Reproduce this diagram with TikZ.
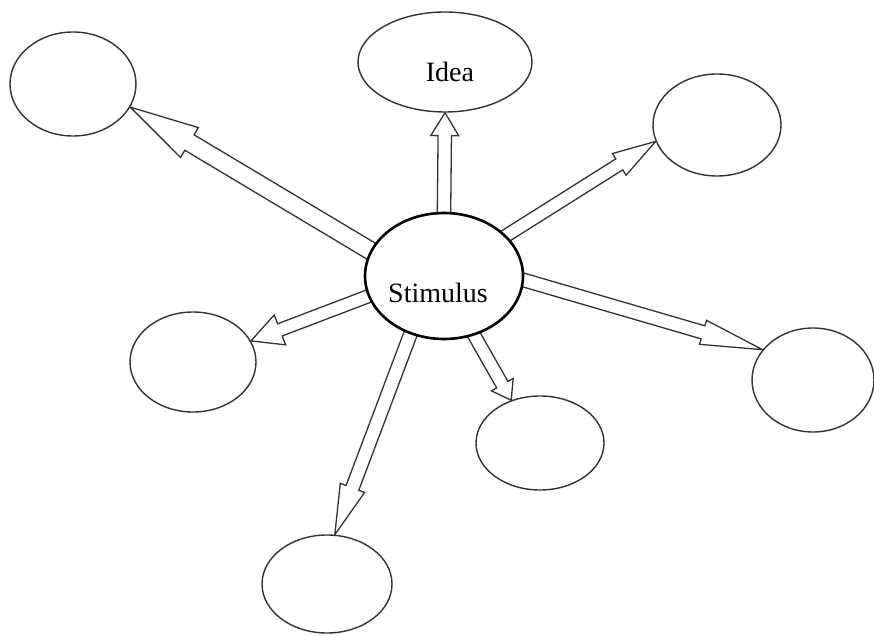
\documentclass[tikz,border=0pt]{standalone}
\usepackage{fontspec}
\setmainfont{Liberation Serif}
\usetikzlibrary{shapes.geometric,calc,backgrounds}
\tikzset{
  bubble/.style={ellipse, draw=black!80, line width=1.4pt, fill=white, inner sep=0pt},
  hub/.style={ellipse, draw=black, line width=2.6pt, fill=white, inner sep=0pt},
  word/.style={font=\fontsize{28}{32}\selectfont, inner sep=0pt, anchor=base, text=black},
  blockarrow/.style={draw=black!80, line width=1.3pt, line join=miter, fill=white},
}
% #1 prefix, #2 start, #3 tip, #4 shaft half width, #5 head half width, #6 head length
\newcommand{\blockarr}[6]{%
  \coordinate (#1s) at ($(#2)!-8pt!(#3)$);
  \coordinate (#1b) at ($(#3)!#6!(#2)$);
  \draw[blockarrow] ($(#1s)!#4!90:(#3)$) -- ($(#1b)!#4!90:(#3)$) -- ($(#1b)!#5!90:(#3)$) -- (#3)
     -- ($(#1b)!#5!-90:(#3)$) -- ($(#1b)!#4!-90:(#3)$) -- ($(#1s)!#4!-90:(#3)$);
}
\begin{document}
\begin{tikzpicture}[x=1pt,y=1pt]
\useasboundingbox (0,0) rectangle (874,635);
% nodes (y = 635 - pixel row)
\node[hub, minimum width=158pt, minimum height=126pt] (stim) at (444,359) {};
\node[bubble, minimum width=174pt, minimum height=100pt] (idea) at (445,573) {};
\node[bubble, minimum width=126pt, minimum height=104pt] (tl) at (73,551) {};
\node[bubble, minimum width=128pt, minimum height=102pt] (tr) at (717,510) {};
\node[bubble, minimum width=122pt, minimum height=104pt] (r) at (813,255) {};
\node[bubble, minimum width=128pt, minimum height=94pt] (bm) at (540,192) {};
\node[bubble, minimum width=130pt, minimum height=98pt] (b) at (327,51) {};
\node[bubble, minimum width=126pt, minimum height=100pt] (l) at (193,273) {};
\node[word] (stimtext) at (438,332) {Stimulus};
\node[word] (ideatext) at (450,553) {Idea};
\begin{pgfonlayer}{background}
  \blockarr{aI}{stim.90}{idea.-90}{6.7pt}{14pt}{23pt}
  \blockarr{aTL}{stim.161}{tl.-22}{9pt}{17.4pt}{69pt}
  \blockarr{aTR}{stim.33}{tr.195}{6.5pt}{12.8pt}{43pt}
  \blockarr{aR}{stim.-3}{r.149}{6.8pt}{12.5pt}{62pt}
  \blockarr{aL}{stim.195}{l.20}{6.5pt}{16pt}{31pt}
  \blockarr{aBM}{stim.-63}{bm.124}{6.5pt}{12.5pt}{18pt}
  \blockarr{aB}{stim.240}{b.81}{6.8pt}{13pt}{50pt}
\end{pgfonlayer}
\end{tikzpicture}
\end{document}
